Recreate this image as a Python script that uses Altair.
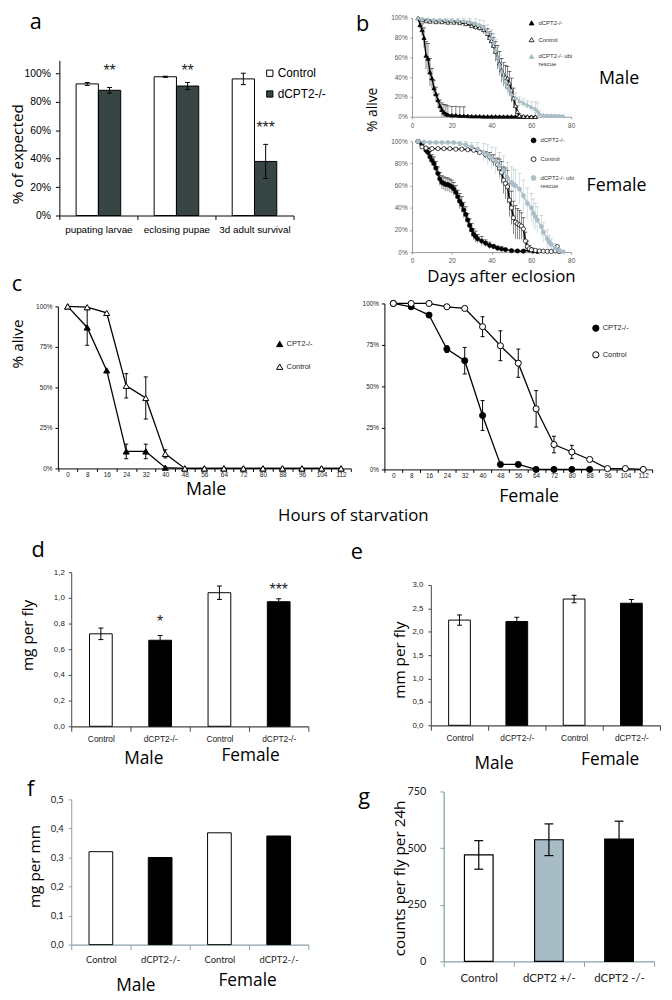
import altair as alt
import pandas as pd

# ======================= DATA =======================
# (a) survival through development, fraction of expected
a_stages = ["pupating larvae", "eclosing pupae", "3d adult survival"]
a_genotypes = ["Control", "dCPT2-/-"]
a_control = [0.925, 0.975, 0.96]
a_control_err = [0.010, 0.004, 0.040]
a_mutant = [0.88, 0.91, 0.38]
a_mutant_err = [0.020, 0.025, 0.120]
a_stars = ["**", "**", "***"]
a_star_level = [1.035, 1.035, 0.635]

# (b) lifespan: % alive vs days after eclosion
b_series = ["dCPT2-/-", "Control", "dCPT2-/- ubi rescue"]
bm_mut_day = [3, 4, 5, 6, 7, 8, 9, 10, 11, 12, 13, 14, 15, 16, 17, 18, 20, 22, 24, 26,
              28, 30, 32, 34, 36, 38, 40, 42, 44, 46, 48, 50, 52, 54, 56, 58, 60, 62]
bm_mut_val = [100, 93, 88, 80, 62, 59, 45, 39, 29, 23, 17, 11, 7, 4.5, 3, 2, 1.5, 1.5, 1, 1,
              0.8, 0.5, 0.5, 0.5, 0.3, 0.3, 0.3, 0.3, 0.2, 0.2, 0.2, 0.2, 0.2, 0.1, 0.1, 0.1, 0, 0]
bm_mut_err = [0, 4, 6, 10, 14, 15, 14, 10, 8, 7, 6, 6, 7, 8, 9, 9, 9, 9, 9, 9,
              0, 0, 0, 0, 0, 0, 0, 0, 0, 0, 0, 0, 0, 0, 0, 0, 0, 0]
bm_ctl_day = [3, 5, 7, 9, 12, 15, 18, 21, 24, 27, 30, 32, 34, 36, 38, 39, 40, 41, 42, 43, 44,
              45, 46, 47, 48, 49, 50, 51, 52, 53, 54, 56, 58, 60, 62]
bm_ctl_val = [100, 98, 97, 96.5, 96, 96, 95.5, 95.5, 95, 94, 92, 91, 90, 88, 84, 80, 77, 72, 66, 60, 54,
              47, 43, 40, 39, 34, 27, 19, 11, 5, 1, 0.5, 0, 0, 0]
bm_ctl_err = [0, 1, 1, 1, 1, 1, 1, 1, 1, 2, 2, 3, 3, 4, 5, 6, 7, 8, 10, 12, 12,
              12, 12, 12, 12, 12, 12, 10, 8, 6, 2, 0, 0, 0, 0]
bm_res_day = [3, 5, 8, 11, 14, 17, 20, 23, 26, 29, 32, 34, 36, 38, 40, 41, 42, 43, 44, 45,
              46, 47, 48, 49, 50, 52, 54, 56, 58, 60, 62, 63, 64, 66, 68, 70, 72, 74, 76]
bm_res_val = [100, 99, 98.5, 98, 98, 98, 97.5, 97.5, 97, 96.5, 95, 93, 91, 86, 80, 75, 68, 60, 52, 46,
              40, 35, 30, 27, 23, 19, 16, 14, 12, 10, 8, 6, 3, 1.5, 1.2, 1.2, 1, 1, 1]
bm_res_err = [0, 1, 1, 1, 1, 1, 2, 2, 3, 3, 4, 5, 6, 7, 8, 9, 10, 10, 10, 9,
              9, 8, 8, 7, 7, 5, 4, 4, 4, 5, 7, 8, 3, 1, 1, 1, 1, 1, 0]

bf_mut_day = [3, 5, 7, 8, 9, 10, 11, 12, 13, 14, 15, 16, 17, 18, 19, 20, 21, 22, 23, 24,
              25, 26, 27, 28, 29, 30, 31, 32, 33, 35, 37, 39, 41, 43, 45, 47, 50, 53, 56, 59, 61, 63]
bf_mut_val = [100, 97, 92, 90, 86, 83, 80, 76, 71, 66, 63, 62, 61, 61, 60, 59, 57, 54, 50, 46,
              43, 38, 34, 29, 24, 20, 16, 14, 12, 10, 8, 6, 5, 3.5, 2.8, 2.2, 1.3, 1, 0.8, 1.8, 1, 0.5]
bf_mut_err = [0, 2, 3, 4, 5, 5, 6, 6, 6, 6, 6, 6, 6, 6, 6, 6, 6, 6, 6, 7,
              7, 7, 7, 6, 6, 6, 5, 5, 4, 4, 3, 3, 2, 2, 2, 1, 1, 1, 1, 1, 1, 0]
bf_ctl_day = [3, 5, 7, 10, 13, 16, 19, 22, 25, 28, 31, 34, 37, 39, 41, 43, 44, 45, 46, 47,
              48, 49, 50, 51, 52, 53, 54, 55, 56, 57, 58, 59, 60, 62, 64, 66, 68, 70, 72, 73, 74]
bf_ctl_val = [100, 95, 94, 93.5, 93.5, 93.5, 93.5, 93, 93, 92.5, 92, 90, 88, 86, 83, 79, 76, 72, 65, 62,
              59, 47, 40, 31, 27, 25.5, 24.5, 23.5, 21, 10, 5, 3, 2, 1.5, 1, 0.8, 0.6, 0.6, 1, 5, 0.5]
bf_ctl_err = [0, 1, 1, 1, 1, 1, 1, 1, 1, 1, 1, 2, 3, 4, 5, 6, 8, 10, 12, 14,
              15, 15, 15, 15, 15, 14, 13, 12, 10, 8, 5, 3, 2, 1, 1, 1, 1, 1, 1, 1, 0]
bf_res_day = [3, 6, 9, 12, 15, 18, 21, 24, 27, 30, 33, 36, 38, 40, 42, 44, 46, 48, 50, 51,
              52, 54, 56, 58, 60, 61, 62, 63, 65, 66, 68, 69, 70, 72, 74, 76]
bf_res_val = [100, 99.5, 99, 99, 99, 99, 99, 98, 97, 95, 93, 90, 88, 85, 82, 78, 74, 67, 63, 61,
              60, 57, 51, 44, 40, 35, 32, 29, 23, 18, 12, 9, 7, 3.5, 1.5, 0.3]
bf_res_err = [0, 1, 1, 1, 1, 1, 1, 2, 3, 4, 6, 8, 9, 10, 12, 12, 13, 14, 14, 14,
              14, 14, 14, 14, 13, 13, 12, 12, 10, 9, 8, 6, 5, 4, 2, 0]

# (c) starvation: % alive vs hours
c_series = ["CPT2-/-", "Control"]
c_hours = [0, 8, 16, 24, 32, 40, 48, 56, 64, 72, 80, 88, 96, 104, 112]
cm_mut = [100, 87, 60.5, 10.5, 10.5, 0.5, 0, 0, 0, 0, 0, 0, 0, 0, 0]
cm_mut_err = [0, 11, 0, 4.5, 4.5, 0, 0, 0, 0, 0, 0, 0, 0, 0, 0]
cm_ctl = [100, 99.5, 96, 51, 43.5, 9, 0, 0, 0, 0, 0, 0, 0, 0, 0]
cm_ctl_err = [0, 0, 0, 7.5, 13, 2.5, 0, 0, 0, 0, 0, 0, 0, 0, 0]
cf_mut_hours = [0, 8, 16, 24, 32, 40, 48, 56, 64, 72, 80, 88]
cf_mut = [100, 98, 93, 72.5, 65.5, 32.5, 3, 3, 0, 0, 0, 0]
cf_mut_err = [0, 0, 0, 2, 8, 9, 0, 0, 0, 0, 0, 0]
cf_ctl = [100, 100, 100, 98, 97, 86, 74.5, 64, 36.5, 15, 10.5, 6, 0.5, 0.5, 0]
cf_ctl_err = [0, 0, 0, 0, 0, 6, 9, 8.5, 11, 5, 4, 0, 0, 0, 0]

# (d,e,f) body mass, length, mass per length
def_sex = ["Male", "Male", "Female", "Female"]
def_geno = ["Control", "dCPT2-/-", "Control", "dCPT2-/-"]
d_mass = [0.72, 0.67, 1.04, 0.97]
d_mass_err = [0.045, 0.037, 0.052, 0.023]
d_stars = ["", "*", "", "***"]
d_star_level = [0, 0.835, 0, 1.085]
e_length = [2.25, 2.22, 2.70, 2.61]
e_length_err = [0.11, 0.09, 0.08, 0.08]
f_ratio = [0.32, 0.30, 0.385, 0.374]

# (g) activity counts
g_geno = ["Control", "dCPT2 +/-", "dCPT2 -/-"]
g_counts = [470, 537, 540]
g_counts_err = [63, 70, 79]

# ======================= LAYOUT =======================
W, H = 664, 992
M = 8
TICK = "Liberation Sans"
LABEL = "Open Sans"
CAL = "Lato"
B_BLUE = "#a9bec6"
A_DARK = "#374545"
G_GREY = "#a7bcc4"
F_AXIS = "#8aa0a8"


def px(x):
    return x - M


def py(y):
    return y - M


def axis(orient, at, **kw):
    off = -px(at) if orient == "left" else py(at) - H
    opts = dict(orient=orient, offset=off, grid=False, title=None, labelOverlap=False)
    opts.update(kw)
    return alt.Axis(**opts)


def blank():
    return alt.Chart(alt.Data(values=[{}]))


def label(text, x, y, size, font=LABEL, angle=0, baseline="alphabetic"):
    return blank().mark_text(text=text, font=font, fontSize=size, angle=angle,
                             align="center", baseline=baseline, color="black").encode(
        x=alt.value(px(x)), y=alt.value(py(y)))


# ---------------- panel a ----------------
a_df = pd.DataFrame({
    "stage": a_stages * 2,
    "geno": [a_genotypes[0]] * 3 + [a_genotypes[1]] * 3,
    "value": a_control + a_mutant,
    "err": a_control_err + a_mutant_err,
})
a_df["lo"] = a_df["value"] - a_df["err"]
a_df["hi"] = a_df["value"] + a_df["err"]
a_star_df = pd.DataFrame({"stage": a_stages, "geno": a_genotypes[1],
                          "star": a_stars, "level": a_star_level})

a_xs = alt.Scale(domain=a_stages, range=[px(60), px(297)], paddingInner=0, paddingOuter=0)
a_ys = alt.Scale(domain=[0, 1.09], range=[py(212), py(55)], nice=False, zero=False)
a_os = alt.Scale(domain=a_genotypes, paddingInner=0, paddingOuter=0.75)
a_xa = axis("bottom", 212, tickBand="extent", tickSize=4, tickColor="black", domainColor="black",
            labelFont=TICK, labelFontSize=10, labelColor="black", labelPadding=5, labelAngle=0)
a_ya = axis("left", 60, values=[0, 0.2, 0.4, 0.6, 0.8, 1.0], format=".0%", tickSize=4,
            tickColor="black", domainColor="black", labelFont=TICK, labelFontSize=10.5,
            labelColor="black", labelPadding=5)


def a_enc(f):
    return dict(x=alt.X("stage:N", scale=a_xs, axis=a_xa, title=None),
                xOffset=alt.XOffset("geno:N", scale=a_os),
                y=alt.Y(f + ":Q", scale=a_ys, axis=a_ya, title=None))


a_bars = alt.Chart(a_df).mark_bar(stroke="black", strokeWidth=1).encode(
    **a_enc("value"),
    color=alt.Color("geno:N", scale=alt.Scale(domain=a_genotypes, range=["#ffffff", A_DARK]),
                    legend=alt.Legend(orient="none", legendX=px(267), legendY=py(62), title=None,
                                      symbolType="square", symbolSize=40, symbolStrokeColor="black",
                                      symbolStrokeWidth=1, labelFont=TICK, labelFontSize=12,
                                      labelColor="black", rowPadding=9, labelOffset=2)))
a_err = alt.Chart(a_df).mark_rule(color="black", strokeWidth=1).encode(**a_enc("lo"), y2=alt.Y2("hi"))
a_lo = alt.Chart(a_df).mark_tick(color="black", thickness=1, size=5, orient="horizontal", opacity=1).encode(**a_enc("lo"))
a_hi = alt.Chart(a_df).mark_tick(color="black", thickness=1, size=5, orient="horizontal", opacity=1).encode(**a_enc("hi"))
a_st = alt.Chart(a_star_df).mark_text(font=TICK, fontSize=16, dy=8, baseline="alphabetic", color="#222").encode(
    **a_enc("level"), text="star:N")
panel_a = alt.layer(a_bars, a_err, a_lo, a_hi, a_st)


# ---------------- panel b ----------------
def long_frame(parts, tkey):
    rows = []
    for name, ts, vals, errs in parts:
        for t, v, e in zip(ts, vals, errs):
            rows.append({"series": name, tkey: t, "val": v, "err": e, "lo": v - e, "hi": v + e})
    return pd.DataFrame(rows)


bm_df = long_frame([(b_series[0], bm_mut_day, bm_mut_val, bm_mut_err),
                    (b_series[1], bm_ctl_day, bm_ctl_val, bm_ctl_err),
                    (b_series[2], bm_res_day, bm_res_val, bm_res_err)], "day")
bf_df = long_frame([(b_series[0], bf_mut_day, bf_mut_val, bf_mut_err),
                    (b_series[1], bf_ctl_day, bf_ctl_val, bf_ctl_err),
                    (b_series[2], bf_res_day, bf_res_val, bf_res_err)], "day")


def survival_panel(df, shape, x0, x1, y0, y1, lx, ly):
    xs = alt.Scale(domain=[0, 80], range=[px(x0), px(x1)], nice=False, zero=False)
    ys = alt.Scale(domain=[0, 100], range=[py(y0), py(y1)], nice=False, zero=False, clamp=True)
    xa = axis("bottom", y0, values=[0, 20, 40, 60, 80], labelFlush=False, tickSize=2, tickColor="#999",
              domainColor="#999", labelFont=TICK, labelFontSize=6.5, labelColor="#555", labelPadding=4)
    ya = axis("left", x0, values=[0, 20, 40, 60, 80, 100], labelExpr="datum.value + '%'", tickSize=2,
              tickColor="#999", domainColor="#999", labelFont=TICK, labelFontSize=6.5,
              labelColor="#555", labelPadding=3)

    def enc(f):
        return dict(x=alt.X("day:Q", scale=xs, axis=xa, title=None),
                    y=alt.Y(f + ":Q", scale=ys, axis=ya, title=None))

    # line/error colour scale listed in reverse order so it stays apart from the symbol legend
    col = alt.Color("series:N", scale=alt.Scale(domain=b_series[::-1], range=[B_BLUE, "#000000", "#000000"]),
                    legend=None)
    err = alt.Chart(df).transform_filter("datum.err > 0").mark_rule(strokeWidth=0.8, opacity=0.6).encode(
        **enc("lo"), y2=alt.Y2("hi"), color=col)
    cap = alt.Chart(df).transform_filter("datum.err > 0").mark_tick(
        orient="horizontal", size=4, thickness=0.8, opacity=0.7).encode(**enc("hi"), color=col)
    line = alt.Chart(df).mark_line(strokeWidth=1.4).encode(**enc("val"), color=col)
    leg = alt.Legend(orient="none", legendX=px(lx), legendY=py(ly), title=None, labelFont=TICK,
                     labelFontSize=6, labelColor="#333", symbolSize=24, symbolStrokeWidth=0.8,
                     rowPadding=9, labelOffset=4, labelLimit=200,
                     labelExpr="datum.label == 'dCPT2-/- ubi rescue' ? ['dCPT2-/- ubi', 'rescue'] : datum.label")
    pts = alt.Chart(df).mark_point(filled=True, opacity=1, size=18, strokeWidth=0.7).encode(
        **enc("val"),
        shape=alt.Shape("series:N", scale=alt.Scale(domain=b_series, range=[shape] * 3), legend=leg),
        fill=alt.Fill("series:N", scale=alt.Scale(domain=b_series, range=["#000000", "#ffffff", B_BLUE]), legend=leg),
        stroke=alt.Stroke("series:N", scale=alt.Scale(domain=b_series, range=["#000000", "#000000", B_BLUE]), legend=leg))
    return alt.layer(err, cap, line, pts)


panel_bm = survival_panel(bm_df, "triangle-up", 417, 578, 112, 12, 535, 14)
panel_bf = survival_panel(bf_df, "circle", 417, 578, 249, 137, 537, 133)

# ---------------- panel c ----------------
cm_df = long_frame([(c_series[0], c_hours, cm_mut, cm_mut_err),
                    (c_series[1], c_hours, cm_ctl, cm_ctl_err)], "t")
cf_df = long_frame([(c_series[0], cf_mut_hours, cf_mut, cf_mut_err),
                    (c_series[1], c_hours, cf_ctl, cf_ctl_err)], "t")


def starvation_panel(df, shape, x0, x1, y0, y1, lx, ly, rowpad):
    xs = alt.Scale(domain=c_hours, range=[px(x0), px(x1)], paddingInner=0, paddingOuter=0)
    ys = alt.Scale(domain=[0, 100], range=[py(y0), py(y1)], nice=False, zero=False)
    xa = axis("bottom", y0, tickBand="extent", tickSize=3, tickColor="black", domainColor="black",
              labelFont=TICK, labelFontSize=6.5, labelColor="#222", labelPadding=0, labelAngle=0)
    ya = axis("left", x0, values=[0, 25, 50, 75, 100], labelExpr="datum.value + '%'", tickSize=3,
              tickColor="black", domainColor="black", labelFont=TICK, labelFontSize=6.5,
              labelColor="#222", labelPadding=3)

    def enc(f):
        return dict(x=alt.X("t:O", scale=xs, axis=xa, title=None),
                    y=alt.Y(f + ":Q", scale=ys, axis=ya, title=None))

    err = alt.Chart(df).transform_filter("datum.err > 0").mark_rule(color="black", strokeWidth=1).encode(
        **enc("lo"), y2=alt.Y2("hi"))
    lo = alt.Chart(df).transform_filter("datum.err > 0").mark_tick(
        color="black", orient="horizontal", size=4, thickness=1, opacity=1).encode(**enc("lo"))
    hi = alt.Chart(df).transform_filter("datum.err > 0").mark_tick(
        color="black", orient="horizontal", size=4, thickness=1, opacity=1).encode(**enc("hi"))
    line = alt.Chart(df).mark_line(color="black", strokeWidth=1.3).encode(**enc("val"), detail="series:N")
    leg = alt.Legend(orient="none", legendX=px(lx), legendY=py(ly), title=None, labelFont=TICK,
                     labelFontSize=7.5, labelColor="#222", symbolSize=40, symbolStrokeWidth=1,
                     rowPadding=rowpad, labelOffset=3)
    pts = alt.Chart(df).mark_point(filled=True, opacity=1, size=38, strokeWidth=1).encode(
        **enc("val"),
        shape=alt.Shape("series:N", scale=alt.Scale(domain=c_series, range=[shape] * 2), legend=leg),
        fill=alt.Fill("series:N", scale=alt.Scale(domain=c_series, range=["#000000", "#ffffff"]), legend=leg),
        stroke=alt.Stroke("series:N", scale=alt.Scale(domain=c_series, range=["#000000", "#000000"]), legend=leg))
    return alt.layer(err, lo, hi, line, pts)


panel_cm = starvation_panel(cm_df, "triangle-up", 58.5, 355, 468, 304, 279, 338, 13)
panel_cf = starvation_panel(cf_df, "circle", 389, 660, 469, 301, 599, 322, 15)


# ---------------- panels d, e, f ----------------
def bar4_frame(vals, errs):
    df = pd.DataFrame({"key": [s + "|" + g for s, g in zip(def_sex, def_geno)],
                       "geno": def_geno, "val": vals, "err": errs})
    df["lo"] = df["val"] - df["err"]
    df["hi"] = df["val"] + df["err"]
    return df


def bar4_panel(df, x0, x1, y0, y1, ymax, yvals, bar_w, axis_color, lab_font, lab_size, lab_pad,
               ylab_font, ylab_size, ylab_pad, cap=5, stars=None):
    keys = list(df["key"])
    xs = alt.Scale(domain=keys, range=[px(x0), px(x1)], paddingInner=0, paddingOuter=0)
    ys = alt.Scale(domain=[0, ymax], range=[py(y0), py(y1)], nice=False, zero=False)
    xa = axis("bottom", y0, tickBand="extent", tickSize=5, tickColor=axis_color, domainColor=axis_color,
              domainWidth=1.3, labelExpr="split(datum.label, '|')[1]", labelFont=lab_font,
              labelFontSize=lab_size, labelColor="#222", labelPadding=lab_pad, labelAngle=0)
    ya = axis("left", x0, values=yvals, labelExpr="replace(format(datum.value, '.1f'), '.', ',')",
              tickSize=3, tickColor=axis_color, domainColor=axis_color, labelFont=ylab_font,
              labelFontSize=ylab_size, labelColor="#222", labelPadding=ylab_pad)

    def enc(f):
        return dict(x=alt.X("key:N", scale=xs, axis=xa, title=None),
                    y=alt.Y(f + ":Q", scale=ys, axis=ya, title=None))

    bars = alt.Chart(df).mark_bar(size=bar_w, stroke="black", strokeWidth=1).encode(
        **enc("val"),
        color=alt.Color("geno:N", scale=alt.Scale(domain=["Control", "dCPT2-/-"], range=["#ffffff", "#000000"]),
                        legend=None))
    layers = [bars]
    if df["err"].sum() > 0:
        layers.append(alt.Chart(df).mark_rule(color="black", strokeWidth=1).encode(**enc("lo"), y2=alt.Y2("hi")))
        layers.append(alt.Chart(df).mark_tick(color="black", thickness=1, size=cap, orient="horizontal",
                                              opacity=1).encode(**enc("lo")))
        layers.append(alt.Chart(df).mark_tick(color="black", thickness=1, size=cap, orient="horizontal",
                                              opacity=1).encode(**enc("hi")))
    if stars is not None:
        sdf = df.assign(star=stars[0], level=stars[1])
        sdf = sdf[sdf["star"] != ""]
        layers.append(alt.Chart(sdf).mark_text(font=TICK, fontSize=16, dy=8, baseline="alphabetic",
                                               color="#222").encode(**enc("level"), text="star:N"))
    return alt.layer(*layers)


panel_d = bar4_panel(bar4_frame(d_mass, d_mass_err), 72, 312, 729, 573, 1.2,
                     [0, 0.2, 0.4, 0.6, 0.8, 1.0, 1.2], 23, "#444", TICK, 8.5, 3,
                     TICK, 8, 4, stars=(d_stars, d_star_level))
panel_e = bar4_panel(bar4_frame(e_length, e_length_err), 436, 668, 728, 586, 3.0,
                     [0, 0.5, 1.0, 1.5, 2.0, 2.5, 3.0], 22, "#444", TICK, 8.5, 3,
                     TICK, 8, 5)
panel_f = bar4_panel(bar4_frame(f_ratio, [0, 0, 0, 0]), 72, 312, 950, 803, 0.5,
                     [0, 0.1, 0.2, 0.3, 0.4, 0.5], 24, F_AXIS, CAL, 9.5, 5,
                     CAL, 9.5, 5)

# ---------------- panel g ----------------
g_df = pd.DataFrame({"geno": g_geno, "val": g_counts, "err": g_counts_err})
g_df["lo"] = g_df["val"] - g_df["err"]
g_df["hi"] = g_df["val"] + g_df["err"]
g_xs = alt.Scale(domain=g_geno, range=[px(449), px(662)], paddingInner=0, paddingOuter=0)
g_ys = alt.Scale(domain=[0, 750], range=[py(967), py(795)], nice=False, zero=False)
g_xa = axis("bottom", 967, tickBand="extent", tickSize=5, tickColor=F_AXIS, domainColor=F_AXIS,
            domainWidth=1.3, labelFont=CAL, labelFontSize=11.5, labelColor="#222", labelPadding=6, labelAngle=0)
g_ya = axis("left", 449, values=[0, 250, 500, 750], tickSize=4, tickColor=F_AXIS, domainColor=F_AXIS,
            domainWidth=1.3, labelFont=CAL, labelFontSize=11, labelColor="#222", labelPadding=14)


def g_enc(f):
    return dict(x=alt.X("geno:N", scale=g_xs, axis=g_xa, title=None),
                y=alt.Y(f + ":Q", scale=g_ys, axis=g_ya, title=None))


g_bars = alt.Chart(g_df).mark_bar(size=29, stroke="black", strokeWidth=1.2).encode(
    **g_enc("val"),
    color=alt.Color("geno:N", scale=alt.Scale(domain=g_geno, range=["#ffffff", G_GREY, "#000000"]), legend=None))
g_err = alt.Chart(g_df).mark_rule(color="black", strokeWidth=1.2).encode(**g_enc("lo"), y2=alt.Y2("hi"))
g_lo = alt.Chart(g_df).mark_tick(color="black", thickness=1.2, size=9, orient="horizontal", opacity=1).encode(**g_enc("lo"))
g_hi = alt.Chart(g_df).mark_tick(color="black", thickness=1.2, size=9, orient="horizontal", opacity=1).encode(**g_enc("hi"))
panel_g = alt.layer(g_bars, g_err, g_lo, g_hi)

# ---------------- text annotations ----------------
texts = [
    label("a", 36, 23, 22), label("b", 367, 25, 22), label("c", 17, 288, 22),
    label("d", 38.5, 558, 22), label("e", 361, 560, 22), label("f", 31, 800, 22),
    label("g", 368.5, 808, 22),
    label("% of expected", 18, 150, 15.5, angle=270, baseline="middle"),
    label("% alive", 377, 105, 14, angle=270, baseline="middle"),
    label("Days after eclosion", 507.5, 279, 17),
    label("Male", 626.5, 79, 18), label("Female", 624, 187, 18),
    label("% alive", 18, 342, 15.5, angle=270, baseline="middle"),
    label("Male", 208.5, 495, 18), label("Female", 535.5, 502, 18),
    label("Hours of starvation", 357.5, 521, 17),
    label("mg per fly", 28.5, 637, 15.5, angle=270, baseline="middle"),
    label("Male", 145.5, 767, 17.5), label("Female", 253.5, 764, 17.5),
    label("mm per fly", 405, 662, 15.5, angle=270, baseline="middle"),
    label("Male", 500, 772, 17.5), label("Female", 617.5, 768, 17.5),
    label("mg per mm", 35, 871, 15.5, angle=270, baseline="middle"),
    label("Male", 137.5, 997, 17.5), label("Female", 250.5, 992, 17.5),
    label("counts per fly per 24h", 404.5, 883, 15.5, angle=270, baseline="middle"),
]

chart = alt.layer(
    panel_a, panel_bm, panel_bf, panel_cm, panel_cf, panel_d, panel_e, panel_f, panel_g, *texts
).resolve_scale(
    x="independent", y="independent", color="independent", fill="independent",
    stroke="independent", shape="independent", xOffset="independent"
).properties(
    width=W, height=H, padding=0, autosize=alt.AutoSizeParams(type="none")
).configure_view(strokeWidth=0)

chart.save("out.html", embed_options={"renderer": "svg", "actions": False})
